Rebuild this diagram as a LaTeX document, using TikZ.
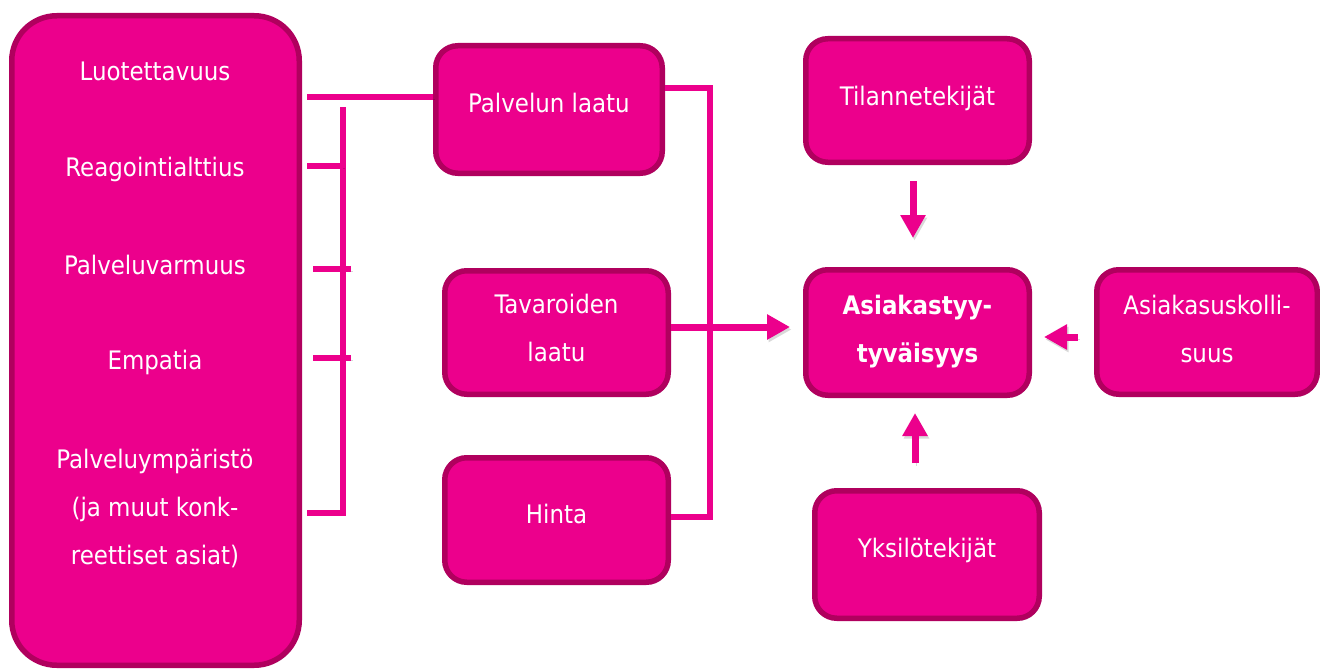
\documentclass[tikz,border=0pt]{standalone}
\usepackage{fontspec}
\setmainfont{DejaVu Sans Condensed}
\usetikzlibrary{arrows.meta,shadows}
\definecolor{mag}{HTML}{EC008C}
\definecolor{magdark}{HTML}{B0005E}
\tikzset{
  box/.style={draw=magdark, fill=mag, line width=5.5pt, rounded corners=22pt, inner sep=0pt,
    drop shadow={shadow xshift=1.5pt, shadow yshift=-2.5pt, opacity=0.25}},
  txt/.style={text=white, font=\fontsize{25.5}{48}\selectfont, inner sep=0pt, align=center, anchor=base},
  txtb/.style={txt, font=\fontsize{25.5}{48}\selectfont\bfseries},
  lineshadow/.style={preaction={draw=black, opacity=0.15, transform canvas={shift={(1.5pt,-2.5pt)}}}},
  conn/.style={draw=mag, line width=5.5pt, lineshadow},
  blockarrow/.style={draw=mag, line width=7pt, lineshadow, -{Triangle[length=23pt,width=24pt]}}
}
\begin{document}
\begin{tikzpicture}[x=1pt,y=-1pt]
\useasboundingbox (0,0) rectangle (1320,669);

% boxes
\node[box, rounded corners=45pt, minimum width=287.5pt, minimum height=649.5pt] (left) at (155.5,340.5) {};
\node[box, minimum width=226.5pt, minimum height=127.5pt] (pl) at (549,109.5) {};
\node[box, minimum width=223.5pt, minimum height=123.5pt] (tl) at (556.5,332.5) {};
\node[box, minimum width=223.5pt, minimum height=124.5pt] (h) at (556.5,520) {};
\node[box, minimum width=223.5pt, minimum height=123.5pt] (ti) at (917.5,100.5) {};
\node[box, minimum width=223.5pt, minimum height=125.5pt] (a) at (917.5,332.5) {};
\node[box, minimum width=224.5pt, minimum height=127.5pt] (y) at (927,554.5) {};
\node[box, minimum width=220.5pt, minimum height=124.5pt] (au) at (1207,332) {};

% texts (base anchor = baseline of the last line)
\node[txt] (t1) at (155,81) {Luotettavuus};
\node[txt] (t2) at (155,176) {Reagointialttius};
\node[txt] (t3) at (155,274) {Palveluvarmuus};
\node[txt] (t4) at (155,369) {Empatia};
\node[txt] (t5) at (155,564) {Palveluympäristö\\(ja muut konk-\\reettiset asiat)};
\node[txt] (plt) at (549,112) {Palvelun laatu};
\node[txt] (tlt) at (556.5,361) {Tavaroiden\\laatu};
\node[txt] (ht) at (556.5,523) {Hinta};
\node[txt] (tit) at (917.5,106) {Tilannetekijät};
\node[txtb] (at) at (917.5,362) {Asiakastyy-\\tyväisyys};
\node[txt] (aut) at (1207,362) {Asiakasuskolli-\\suus};
\node[txt] (yt) at (927,557) {Yksilötekijät};

% bracket connectors
\coordinate (b0) at (307,97);
\coordinate (vtop) at (343,107);
\coordinate (vbot) at (343,513);
\coordinate (s4) at (307,513);
\coordinate (s1a) at (307,166);
\coordinate (s1b) at (343,166);
\coordinate (s2a) at (313,269);
\coordinate (s2b) at (351,269);
\coordinate (s3a) at (313,358);
\coordinate (s3b) at (351,358);
\draw[conn] (b0) -- (b0 -| pl.west);
\draw[conn] (vtop) -- (vbot) -- (s4);
\draw[conn] (s1a) -- (s1b);
\draw[conn] (s2a) -- (s2b);
\draw[conn] (s3a) -- (s3b);

% right bracket
\coordinate (r1) at (710,88);
\coordinate (r2) at (710,517);
\draw[conn] (pl.east |- r1) -- (r1) -- (r2) -- (r2 -| h.east);

% arrows
\draw[blockarrow] ([yshift=5.5pt]tl.east) -- ([xshift=-13pt,yshift=5.5pt]a.west);
\draw[blockarrow] ([xshift=-4.5pt,yshift=-16pt]ti.south) -- ([xshift=-4.5pt,yshift=29pt]a.north);
\draw[blockarrow] ([xshift=-12pt,yshift=25pt]y.north) -- ([xshift=-2.5pt,yshift=-15pt]a.south);
\draw[blockarrow] ([xshift=-16pt,yshift=-5pt]au.west) -- ([xshift=12pt,yshift=-4.5pt]a.east);
\end{tikzpicture}
\end{document}
